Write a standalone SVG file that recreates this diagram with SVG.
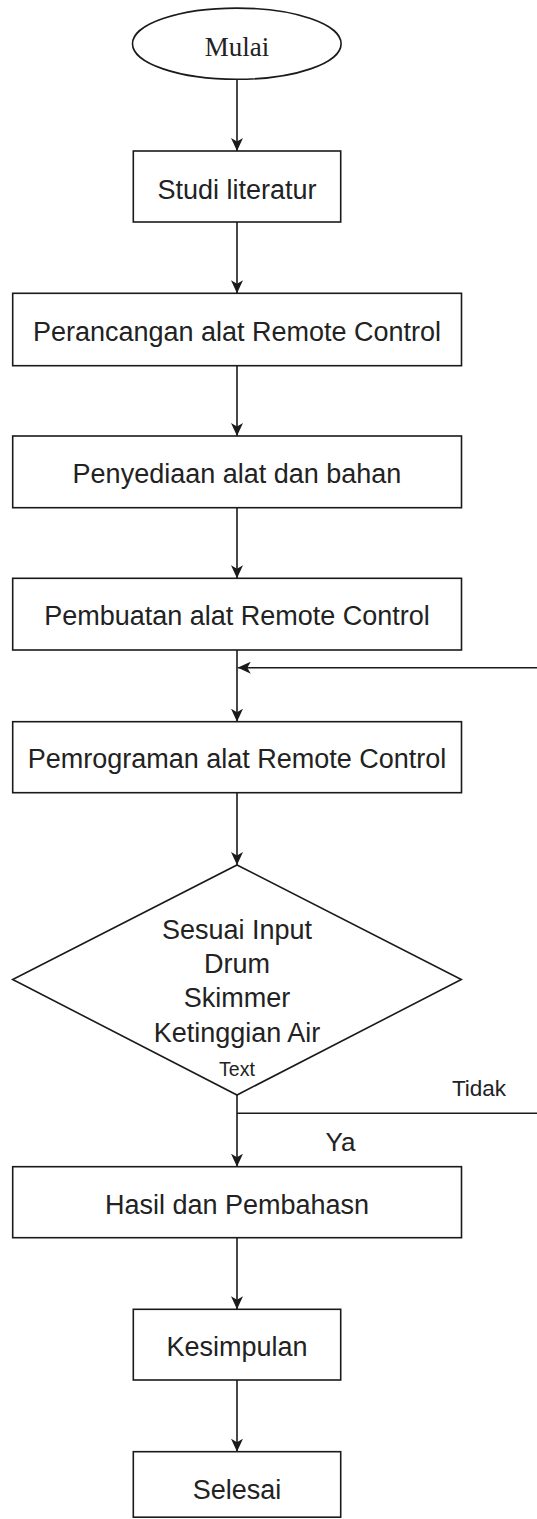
<svg xmlns="http://www.w3.org/2000/svg" width="537" height="1519" viewBox="0 0 537 1519">
<style>
  .shape { fill: #ffffff; stroke: #1a1a1a; stroke-width: 1.6; }
  .lbl { font-family: "Liberation Sans", Arial, sans-serif; font-size: 27px; fill: #222222; text-anchor: middle; }
  .serif { font-family: "Liberation Serif", "Times New Roman", serif; font-size: 27px; fill: #222222; text-anchor: middle; }
  .edge { fill: none; stroke: #1a1a1a; stroke-width: 1.6; }
  .arrow { marker-end: url(#arr); }
</style>
<defs>
  <marker id="arr" viewBox="0 0 13 12" refX="13" refY="6" markerWidth="13" markerHeight="12" orient="auto" markerUnits="userSpaceOnUse">
    <path d="M0,0 L13,6 L0,12 L3.5,6 Z" fill="#1a1a1a"/>
  </marker>
</defs>
<rect width="537" height="1519" fill="#ffffff"/>

<g id="connectors">
  <line class="edge arrow" x1="237" y1="79.5" x2="237" y2="151"/>
  <line class="edge arrow" x1="237" y1="222" x2="237" y2="293.3"/>
  <line class="edge arrow" x1="237" y1="365.7" x2="237" y2="436"/>
  <line class="edge arrow" x1="237" y1="507.7" x2="237" y2="578.3"/>
  <line class="edge arrow" x1="237" y1="650" x2="237" y2="721.7"/>
  <line class="edge arrow" x1="237" y1="792.7" x2="237" y2="865"/>
  <line class="edge arrow" x1="237" y1="1095" x2="237" y2="1166.7"/>
  <line class="edge arrow" x1="237" y1="1237.7" x2="237" y2="1309.3"/>
  <line class="edge arrow" x1="237" y1="1380" x2="237" y2="1451.7"/>
  <line class="edge" x1="237" y1="1113.3" x2="537" y2="1113.3"/>
  <line class="edge arrow" x1="537" y1="667.7" x2="237.8" y2="667.7"/>
  <text class="lbl" x="479" y="1096" style="font-size:22.5px">Tidak</text>
  <text class="lbl" x="340.5" y="1151" style="font-size:26px">Ya</text>
</g>

<g id="mulai">
  <ellipse class="shape" cx="236.8" cy="43.7" rx="104.3" ry="35.6"/>
  <text class="serif" x="237" y="55.7">Mulai</text>
</g>

<g id="studi">
  <rect class="shape" x="133.3" y="151" width="207.4" height="71"/>
  <text class="lbl" x="237" y="199">Studi literatur</text>
</g>

<g id="perancangan">
  <rect class="shape" x="12.7" y="293.3" width="448.8" height="72.4"/>
  <text class="lbl" x="237" y="340.7">Perancangan alat Remote Control</text>
</g>

<g id="penyediaan">
  <rect class="shape" x="12.7" y="436" width="448.8" height="71.7"/>
  <text class="lbl" x="237" y="483.3">Penyediaan alat dan bahan</text>
</g>

<g id="pembuatan">
  <rect class="shape" x="12.7" y="578.3" width="448.8" height="71.7"/>
  <text class="lbl" x="237" y="625">Pembuatan alat Remote Control</text>
</g>

<g id="pemrograman">
  <rect class="shape" x="12.7" y="721.7" width="448.8" height="71"/>
  <text class="lbl" x="237" y="767.7">Pemrograman alat Remote Control</text>
</g>

<g id="keputusan">
  <polygon class="shape" points="237,865 461.3,979.5 237,1095 12.7,979.5"/>
  <text class="lbl" x="237" y="939">Sesuai Input</text>
  <text class="lbl" x="237" y="972.7">Drum</text>
  <text class="lbl" x="237" y="1007.3">Skimmer</text>
  <text class="lbl" x="237" y="1041.7">Ketinggian Air</text>
  <text class="lbl" x="237" y="1076" style="font-size:19.5px">Text</text>
</g>

<g id="hasil">
  <rect class="shape" x="12.7" y="1166.7" width="448.8" height="71"/>
  <text class="lbl" x="237" y="1214">Hasil dan Pembahasn</text>
</g>

<g id="kesimpulan">
  <rect class="shape" x="133.3" y="1309.3" width="207.4" height="70.7"/>
  <text class="lbl" x="237" y="1356">Kesimpulan</text>
</g>

<g id="selesai">
  <rect class="shape" x="133.3" y="1451.7" width="207.4" height="65.5"/>
  <text class="lbl" x="237" y="1499">Selesai</text>
</g>
</svg>
